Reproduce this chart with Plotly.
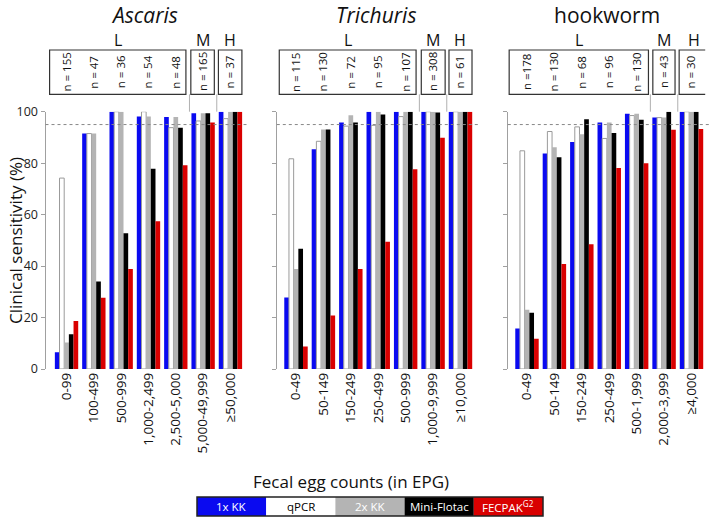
import plotly.graph_objects as go

# ---------------- data ----------------
methods = ["1x KK", "qPCR", "2x KK", "Mini-Flotac", "FECPAK<sup>G2</sup>"]
method_colors = ["#0a0af0", "#ffffff", "#b4b4b4", "#000000", "#d90000"]
legend_text_colors = ["#ffffff", "#000000", "#ffffff", "#ffffff", "#ffffff"]

panel_titles = ["<i>Ascaris</i>", "<i>Trichuris</i>", "hookworm"]

asc_cats = ["0-99", "100-499", "500-999", "1,000-2,499", "2,500-5,000", "5,000-49,999", "≥50,000"]
asc_n = ["n = 155", "n = 47", "n = 36", "n = 54", "n = 48", "n = 165", "n = 37"]
asc_kk1 = [6.5, 91.5, 100, 98.1, 97.9, 99.4, 100]
asc_qpcr = [74.2, 91.5, 100, 100, 93.8, 96.4, 97.3]
asc_kk2 = [10.3, 91.5, 100, 98.1, 97.9, 99.4, 100]
asc_mf = [13.5, 34.0, 52.8, 77.8, 93.8, 99.4, 100]
asc_fec = [18.7, 27.7, 38.9, 57.4, 79.2, 95.8, 100]

tri_cats = ["0-49", "50-149", "150-249", "250-499", "500-999", "1,000-9,999", "≥10,000"]
tri_n = ["n = 115", "n = 130", "n = 72", "n = 95", "n = 107", "n = 308", "n = 61"]
tri_kk1 = [27.8, 85.4, 95.8, 100, 100, 100, 100]
tri_qpcr = [81.7, 88.5, 94.4, 94.7, 98.1, 100, 100]
tri_kk2 = [38.9, 93.1, 98.6, 100, 100, 100, 100]
tri_mf = [46.7, 93.1, 95.8, 98.9, 100, 99.7, 100]
tri_fec = [8.7, 20.8, 38.9, 49.5, 77.6, 89.9, 100]

hook_cats = ["0-49", "50-149", "150-249", "250-499", "500-1,999", "2,000-3,999", "≥4,000"]
hook_n = ["n =178", "n = 130", "n = 68", "n = 96", "n = 130", "n = 43", "n = 30"]
hook_kk1 = [15.7, 83.8, 88.2, 95.8, 99.2, 97.7, 100]
hook_qpcr = [84.8, 92.3, 94.1, 89.6, 98.5, 97.7, 100]
hook_kk2 = [23.0, 86.2, 91.2, 95.8, 99.2, 97.7, 100]
hook_mf = [21.9, 82.3, 97.1, 91.7, 96.9, 100, 100]
hook_fec = [11.8, 40.8, 48.5, 78.1, 80.0, 93.0, 93.3]

y_ticks = [0, 20, 40, 60, 80, 100]
threshold = 95
intensity_labels = ["L", "M", "H"]

# ---------------- layout helpers ----------------
W, H = 711, 520
FONT = "Open Sans"


def px(x):
    return x / W


def py(y):
    return 1 - y / H


panels = [
    (asc_cats, asc_n, [asc_kk1, asc_qpcr, asc_kk2, asc_mf, asc_fec]),
    (tri_cats, tri_n, [tri_kk1, tri_qpcr, tri_kk2, tri_mf, tri_fec]),
    (hook_cats, hook_n, [hook_kk1, hook_qpcr, hook_kk2, hook_mf, hook_fec]),
]
x_domains = [(45.5, 244.1), (276.8, 474.2), (507.8, 705.2)]
x_ranges = [(-0.77, 6.5), (-0.70, 6.5), (-0.70, 6.5)]
y_dom = (py(369), py(111.7))
box_ranges = [
    [(-0.62, 4.37), (4.55, 5.41), (5.56, 6.42)],
    [(-0.61, 4.38), (4.57, 5.44), (5.58, 6.42)],
    [(-0.65, 4.43), (4.59, 5.40), (5.55, 6.62)],
]

fig = go.Figure()
shapes = []
annotations = []
layout_axes = {}

for i, (cats, nlab, series) in enumerate(panels):
    sfx = "" if i == 0 else str(i + 1)
    xa, ya = "x" + sfx, "y" + sfx
    for m, vals in enumerate(series):
        fig.add_trace(go.Bar(
            x=cats, y=vals, name=methods[m], xaxis=xa, yaxis=ya,
            marker=dict(color=method_colors[m],
                        line=dict(color="#9a9a9a" if m == 1 else method_colors[m],
                                  width=1 if m == 1 else 0)),
            showlegend=False, offsetgroup=str(m), legendgroup=str(m),
        ))
    layout_axes["xaxis" + sfx] = dict(
        domain=[px(x_domains[i][0]), px(x_domains[i][1])], anchor=ya,
        type="category", range=list(x_ranges[i]), tickangle=-90,
        showline=False, ticks="", showgrid=False, zeroline=False,
        automargin=False,
        tickfont=dict(family=FONT, size=13.5, color="#111"),
    )
    layout_axes["yaxis" + sfx] = dict(
        domain=list(y_dom), anchor=xa, range=[0, 100], tickvals=y_ticks,
        showline=True, linecolor="#a0a0a0", linewidth=1, ticks="outside",
        ticklen=4, tickcolor="#a0a0a0", showgrid=False, zeroline=False,
        showticklabels=(i == 0), automargin=False,
        tickfont=dict(family=FONT, size=12.5, color="#222"),
    )
    # dotted 95% line
    shapes.append(dict(type="line", xref=xa + " domain", yref=ya, x0=0, x1=1.02,
                       y0=threshold, y1=threshold,
                       line=dict(color="#888", width=1, dash="dot")))
    # separators between L/M/H
    for sx in (4.5, 5.5):
        shapes.append(dict(type="line", xref=xa, yref="paper", x0=sx, x1=sx,
                           y0=py(111.7), y1=py(94.3),
                           line=dict(color="#b0b0b0", width=1)))
    # boxes + L/M/H labels
    for b, (b0, b1) in enumerate(box_ranges[i]):
        shapes.append(dict(type="rect", xref=xa, yref="paper", x0=b0, x1=b1,
                           y0=py(94.3), y1=py(50),
                           line=dict(color="#333", width=1.2)))
        annotations.append(dict(xref=xa, yref="paper", x=(b0 + b1) / 2, y=py(40),
                                text=intensity_labels[b], showarrow=False,
                                font=dict(family=FONT, size=16, color="#111"),
                                xanchor="center", yanchor="middle"))
    # n labels
    for k, t in enumerate(nlab):
        annotations.append(dict(xref=xa, yref="paper", x=k, y=py(72), text=t,
                                textangle=-90, showarrow=False,
                                font=dict(family=FONT, size=11.5, color="#111"),
                                xanchor="center", yanchor="middle"))
    # panel title
    annotations.append(dict(xref=xa + " domain", yref="paper", x=0.5, y=1.0,
                            text=panel_titles[i], showarrow=False,
                            font=dict(family=FONT, size=21, color="#111"),
                            xanchor="center", yanchor="top", yshift=1))

# axis titles
annotations.append(dict(xref="paper", yref="paper", x=px(15), y=py(241),
                        text="Clinical sensitivity (%)", textangle=-90, showarrow=False,
                        font=dict(family=FONT, size=17, color="#111"),
                        xanchor="center", yanchor="middle"))
annotations.append(dict(xref="paper", yref="paper", x=px(351), y=py(481),
                        text="Fecal egg counts (in EPG)", showarrow=False,
                        font=dict(family=FONT, size=17, color="#111"),
                        xanchor="center", yanchor="middle"))

# custom legend strip
lx0, lw, ly0, ly1 = 197.0, 69.2, 497.0, 516.0
for m, lab in enumerate(methods):
    x0 = lx0 + m * lw
    shapes.append(dict(type="rect", xref="paper", yref="paper",
                       x0=px(x0), x1=px(x0 + lw), y0=py(ly1), y1=py(ly0),
                       fillcolor=method_colors[m], line=dict(width=0)))
    annotations.append(dict(xref="paper", yref="paper", x=px(x0 + lw / 2),
                            y=py((ly0 + ly1) / 2), text=lab, showarrow=False,
                            font=dict(family=FONT, size=11.5, color=legend_text_colors[m]),
                            xanchor="center", yanchor="middle"))
shapes.append(dict(type="rect", xref="paper", yref="paper",
                   x0=px(lx0), x1=px(lx0 + 5 * lw), y0=py(ly1), y1=py(ly0),
                   line=dict(color="#222", width=1.5)))

fig.update_layout(
    width=W, height=H, margin=dict(l=0, r=0, t=0, b=0, autoexpand=False),
    paper_bgcolor="white", plot_bgcolor="white",
    barmode="group", bargap=0.145, bargroupgap=0,
    showlegend=False, shapes=shapes, annotations=annotations,
    font=dict(family=FONT),
    **layout_axes,
)

fig.write_html(
    "out.html",
    config={"displayModeBar": False},
    post_script="document.body.style.margin='0';document.body.style.overflow='hidden';",
)
